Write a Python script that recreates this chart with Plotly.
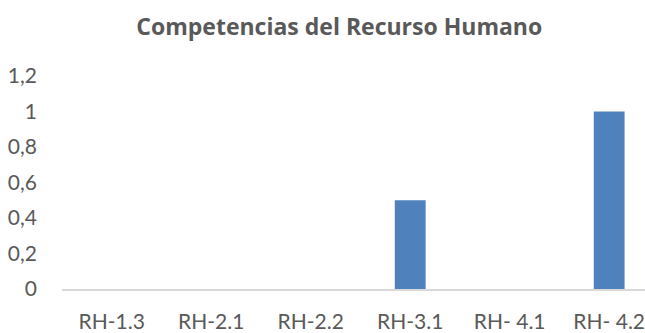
import plotly.graph_objects as go

categories = ["RH-1.3", "RH-2.1", "RH-2.2", "RH-3.1", "RH- 4.1", "RH- 4.2"]
values = [0, 0, 0, 0.5, 0, 1]

text_color = "#595959"
bar_color = "#4F81BD"
font_family = "Lato, 'Open Sans', sans-serif"
title_family = "'Open Sans', Lato, sans-serif"

fig = go.Figure(
    go.Bar(
        x=categories,
        y=values,
        marker=dict(color=bar_color, line=dict(width=0)),
        width=0.31,
    )
)

fig.update_layout(
    width=645,
    height=333,
    margin=dict(l=62, r=0, t=76, b=40),
    paper_bgcolor="white",
    plot_bgcolor="white",
    separators=",.",
    showlegend=False,
    font=dict(family=font_family, color=text_color, size=21),
    title=dict(
        text="<b>Competencias del Recurso Humano</b>",
        x=0.526,
        xanchor="center",
        y=0.92,
        yanchor="middle",
        font=dict(family=title_family, size=23, color=text_color),
    ),
)

fig.update_xaxes(
    type="category",
    range=[-0.5, 5.36],
    showline=True,
    linecolor="#D9D9D9",
    linewidth=1.5,
    showgrid=False,
    ticks="",
    ticklabelstandoff=13,
    tickfont=dict(size=21, color=text_color),
)

fig.update_yaxes(
    range=[0, 1.2],
    dtick=0.2,
    tick0=0,
    showgrid=False,
    zeroline=False,
    showline=False,
    ticks="",
    ticklabelstandoff=24,
    tickfont=dict(size=21, color=text_color),
)

fig.write_html("out.html")
